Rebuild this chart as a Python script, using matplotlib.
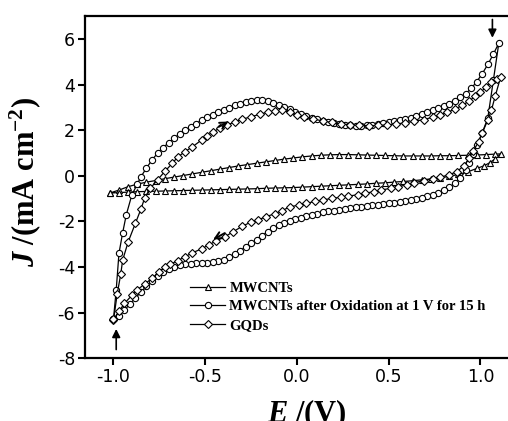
import matplotlib
matplotlib.use("Agg")
import matplotlib.pyplot as plt

plt.rcParams['mathtext.fontset'] = 'custom'
plt.rcParams['mathtext.rm'] = 'Liberation Serif:bold'
plt.rcParams['mathtext.it'] = 'Liberation Serif:italic:bold'
plt.rcParams['mathtext.bf'] = 'Liberation Serif:bold'

# ---------------- data ----------------
# MWCNTs (triangles): anodic then cathodic
mw_E = [-1.02, -0.97, -0.92, -0.87, -0.82, -0.77, -0.72, -0.67, -0.62, -0.57, -0.52, -0.47,
        -0.42, -0.37, -0.32, -0.27, -0.22, -0.17, -0.12, -0.07, -0.02, 0.03, 0.08, 0.13,
        0.18, 0.23, 0.28, 0.33, 0.38, 0.43, 0.48, 0.53, 0.58, 0.63, 0.68, 0.73, 0.78,
        0.83, 0.88, 0.93, 0.98, 1.03, 1.08, 1.11,
        1.08, 1.05, 1.02, 0.98, 0.93, 0.88, 0.83, 0.78, 0.73, 0.68, 0.63, 0.58, 0.53,
        0.48, 0.43, 0.38, 0.33, 0.28, 0.23, 0.18, 0.13, 0.08, 0.03, -0.02, -0.07, -0.12,
        -0.17, -0.22, -0.27, -0.32, -0.37, -0.42, -0.47, -0.52, -0.57, -0.62, -0.67,
        -0.72, -0.77, -0.82, -0.87, -0.92, -0.97, -1.02]
mw_J = [-0.75, -0.62, -0.47, -0.36, -0.27, -0.20, -0.12, -0.05, 0.02, 0.09, 0.16, 0.23,
        0.30, 0.37, 0.44, 0.50, 0.56, 0.62, 0.68, 0.74, 0.79, 0.84, 0.88, 0.91,
        0.93, 0.94, 0.94, 0.93, 0.92, 0.91, 0.90, 0.89, 0.88, 0.88, 0.88, 0.88, 0.89,
        0.89, 0.90, 0.91, 0.92, 0.94, 0.96, 0.97,
        0.75, 0.58, 0.45, 0.33, 0.18, 0.07, -0.02, -0.08, -0.13, -0.17, -0.21, -0.24, -0.27,
        -0.30, -0.32, -0.35, -0.37, -0.39, -0.41, -0.43, -0.45, -0.47, -0.49, -0.51, -0.52, -0.53,
        -0.54, -0.56, -0.57, -0.58, -0.59, -0.60, -0.61, -0.62, -0.63, -0.64, -0.65,
        -0.66, -0.67, -0.68, -0.69, -0.71, -0.73, -0.75]

# MWCNTs after oxidation (circles)
ox_E = [-1.00, -0.985, -0.97, -0.95, -0.93, -0.90, -0.87, -0.85, -0.82, -0.79, -0.76, -0.73,
        -0.70, -0.67, -0.64, -0.61, -0.58, -0.55, -0.52, -0.49, -0.46, -0.43, -0.40, -0.37,
        -0.34, -0.31, -0.28, -0.25, -0.22, -0.19, -0.16, -0.13, -0.10, -0.07, -0.04, -0.01,
        0.02, 0.05, 0.08, 0.11, 0.14, 0.17, 0.20, 0.23, 0.26, 0.29, 0.32, 0.35, 0.38, 0.41,
        0.44, 0.47, 0.50, 0.53, 0.56, 0.59, 0.62, 0.65, 0.68, 0.71, 0.74, 0.77, 0.80, 0.83,
        0.86, 0.89, 0.92, 0.95, 0.98, 1.01, 1.04, 1.07, 1.10,
        1.07, 1.04, 1.01, 0.98, 0.96, 0.94, 0.92, 0.89, 0.86, 0.83, 0.80, 0.77, 0.74, 0.71,
        0.68, 0.65, 0.62, 0.59, 0.56, 0.53, 0.50, 0.47, 0.44, 0.41, 0.38, 0.35, 0.32, 0.29,
        0.26, 0.23, 0.20, 0.17, 0.14, 0.11, 0.08, 0.05, 0.02, -0.01, -0.04, -0.07, -0.10,
        -0.13, -0.16, -0.19, -0.22, -0.25, -0.28, -0.31, -0.34, -0.37, -0.40, -0.43, -0.46,
        -0.49, -0.52, -0.55, -0.58, -0.61, -0.64, -0.67, -0.70, -0.73, -0.76, -0.79, -0.82,
        -0.85, -0.88, -0.91, -0.94, -0.97, -1.00]
ox_J = [-6.30, -5.00, -3.40, -2.50, -1.70, -0.84, -0.35, -0.03, 0.35, 0.70, 1.00, 1.25,
        1.45, 1.65, 1.85, 2.00, 2.15, 2.30, 2.45, 2.58, 2.70, 2.80, 2.90, 3.00,
        3.10, 3.18, 3.25, 3.30, 3.33, 3.33, 3.30, 3.22, 3.13, 3.03, 2.93, 2.83,
        2.73, 2.64, 2.56, 2.49, 2.42, 2.36, 2.31, 2.27, 2.24, 2.22, 2.21, 2.21, 2.22, 2.24,
        2.27, 2.31, 2.36, 2.41, 2.46, 2.51, 2.56, 2.64, 2.72, 2.80, 2.88, 2.97, 3.07, 3.18,
        3.30, 3.45, 3.62, 3.85, 4.15, 4.50, 4.90, 5.35, 5.84,
        4.20, 2.55, 1.90, 1.36, 0.95, 0.57, 0.25, -0.10, -0.33, -0.50, -0.63, -0.74, -0.83, -0.90,
        -0.96, -1.01, -1.05, -1.09, -1.13, -1.17, -1.20, -1.23, -1.26, -1.29, -1.32, -1.35, -1.38, -1.41,
        -1.44, -1.48, -1.52, -1.56, -1.60, -1.65, -1.70, -1.76, -1.83, -1.90, -1.98, -2.07, -2.17,
        -2.30, -2.45, -2.62, -2.80, -2.95, -3.12, -3.28, -3.43, -3.57, -3.68, -3.75, -3.79,
        -3.82, -3.83, -3.84, -3.85, -3.87, -3.92, -3.98, -4.08, -4.20, -4.38, -4.60, -4.85,
        -5.10, -5.36, -5.62, -5.90, -6.15, -6.30]

# GQDs (diamonds)
gq_E = [-1.00, -0.98, -0.96, -0.95, -0.92, -0.88, -0.85, -0.83, -0.80, -0.76, -0.72, -0.68,
        -0.65, -0.61, -0.57, -0.52, -0.49, -0.46, -0.42, -0.38, -0.34, -0.30, -0.25, -0.20,
        -0.16, -0.12, -0.08, -0.04, 0.00, 0.04, 0.09, 0.14, 0.19, 0.24, 0.29, 0.34, 0.39,
        0.44, 0.49, 0.54, 0.59, 0.64, 0.69, 0.74, 0.78, 0.82, 0.86, 0.90, 0.94, 0.97, 1.00,
        1.03, 1.06, 1.09, 1.11,
        1.08, 1.06, 1.04, 1.01, 0.99, 0.96, 0.94, 0.91, 0.87, 0.83, 0.78, 0.74, 0.69, 0.64,
        0.60, 0.55, 0.51, 0.46, 0.42, 0.37, 0.33, 0.28, 0.24, 0.19, 0.14, 0.10, 0.05, 0.01,
        -0.04, -0.08, -0.12, -0.17, -0.21, -0.25, -0.30, -0.35, -0.39, -0.44, -0.48, -0.52,
        -0.57, -0.61, -0.65, -0.69, -0.72, -0.75, -0.79, -0.83, -0.87, -0.90, -0.94, -0.97, -1.00]
gq_J = [-6.35, -5.20, -4.30, -3.70, -2.90, -2.07, -1.45, -0.97, -0.55, -0.17, 0.20, 0.55,
        0.83, 1.07, 1.28, 1.58, 1.76, 1.93, 2.10, 2.24, 2.37, 2.49, 2.60, 2.72,
        2.80, 2.86, 2.88, 2.80, 2.70, 2.60, 2.50, 2.42, 2.35, 2.29, 2.25, 2.22, 2.21,
        2.22, 2.24, 2.28, 2.34, 2.40, 2.48, 2.58, 2.68, 2.80, 2.93, 3.10, 3.30, 3.50, 3.68,
        3.90, 4.13, 4.25, 4.35,
        3.50, 2.90, 2.46, 1.90, 1.50, 1.10, 0.80, 0.45, 0.18, 0.06, -0.06, -0.12, -0.20, -0.30,
        -0.39, -0.47, -0.54, -0.62, -0.69, -0.76, -0.83, -0.88, -0.93, -0.99, -1.05, -1.12, -1.20, -1.28,
        -1.36, -1.52, -1.65, -1.80, -1.92, -2.02, -2.22, -2.46, -2.66, -2.85, -3.03, -3.20,
        -3.38, -3.55, -3.72, -3.88, -4.00, -4.20, -4.50, -4.75, -5.00, -5.25, -5.60, -5.95, -6.30]

labels = ["MWCNTs", "MWCNTs after Oxidation at 1 V for 15 h", "GQDs"]
x_ticks = [-1.0, -0.5, 0.0, 0.5, 1.0]
y_ticks = [-8, -6, -4, -2, 0, 2, 4, 6]

# ---------------- plot ----------------
fig = plt.figure(figsize=(5.08, 4.21), dpi=100)
ax = fig.add_axes([0.167, 0.1496, 0.833, 0.8124])

common = dict(color='black', lw=0.9, markerfacecolor='white', markeredgecolor='black',
              markeredgewidth=0.8)
ax.plot(mw_E, mw_J, marker='^', ms=5, label=labels[0], **common)
ax.plot(ox_E, ox_J, marker='o', ms=4.5, label=labels[1], **common)
ax.plot(gq_E, gq_J, marker='D', ms=4, label=labels[2], **common)

ax.set_xlim(-1.156, 1.15)
ax.set_ylim(-8, 7.03)
ax.set_xticks(x_ticks)
ax.set_xticklabels([f"{v:.1f}" for v in x_ticks])
ax.set_yticks(y_ticks)
ax.set_yticklabels([str(v) for v in y_ticks])
ax.tick_params(direction='out', length=5, width=1.5, labelsize=12.5, pad=2)
for s in ['left', 'bottom', 'top']:
    ax.spines[s].set_linewidth(1.6)
ax.spines['right'].set_visible(False)

ax.set_xlabel(r'$E$ /(V)', fontsize=22, fontfamily='Liberation Serif', fontweight='bold')
ax.set_ylabel(r'$J$ /(mA cm$^{-2}$)', fontsize=22, fontfamily='Liberation Serif',
              fontweight='bold')
ax.xaxis.set_label_coords(0.525, -0.115)
ax.yaxis.set_label_coords(-0.10, 0.515)

# arrows
ap = dict(arrowstyle='-|>', color='black', lw=1.2, mutation_scale=12)
ax.annotate('', xy=(1.065, 5.95), xytext=(1.065, 7.0), arrowprops=ap)
ax.annotate('', xy=(-0.985, -6.6), xytext=(-0.985, -7.75), arrowprops=ap)
ap2 = dict(arrowstyle='->', color='black', lw=1.4, mutation_scale=12)
ax.annotate('', xy=(-0.36, 2.45), xytext=(-0.44, 2.1), arrowprops=ap2)
ax.annotate('', xy=(-0.47, -2.85), xytext=(-0.38, -2.45), arrowprops=ap2)

leg = ax.legend(loc='lower left', bbox_to_anchor=(0.235, 0.06), frameon=False,
                prop={'family': 'Liberation Serif', 'weight': 'bold', 'size': 10.5},
                handlelength=2.4, handletextpad=0.3, labelspacing=0.35, borderaxespad=0)

fig.savefig('out.png', dpi=100)
